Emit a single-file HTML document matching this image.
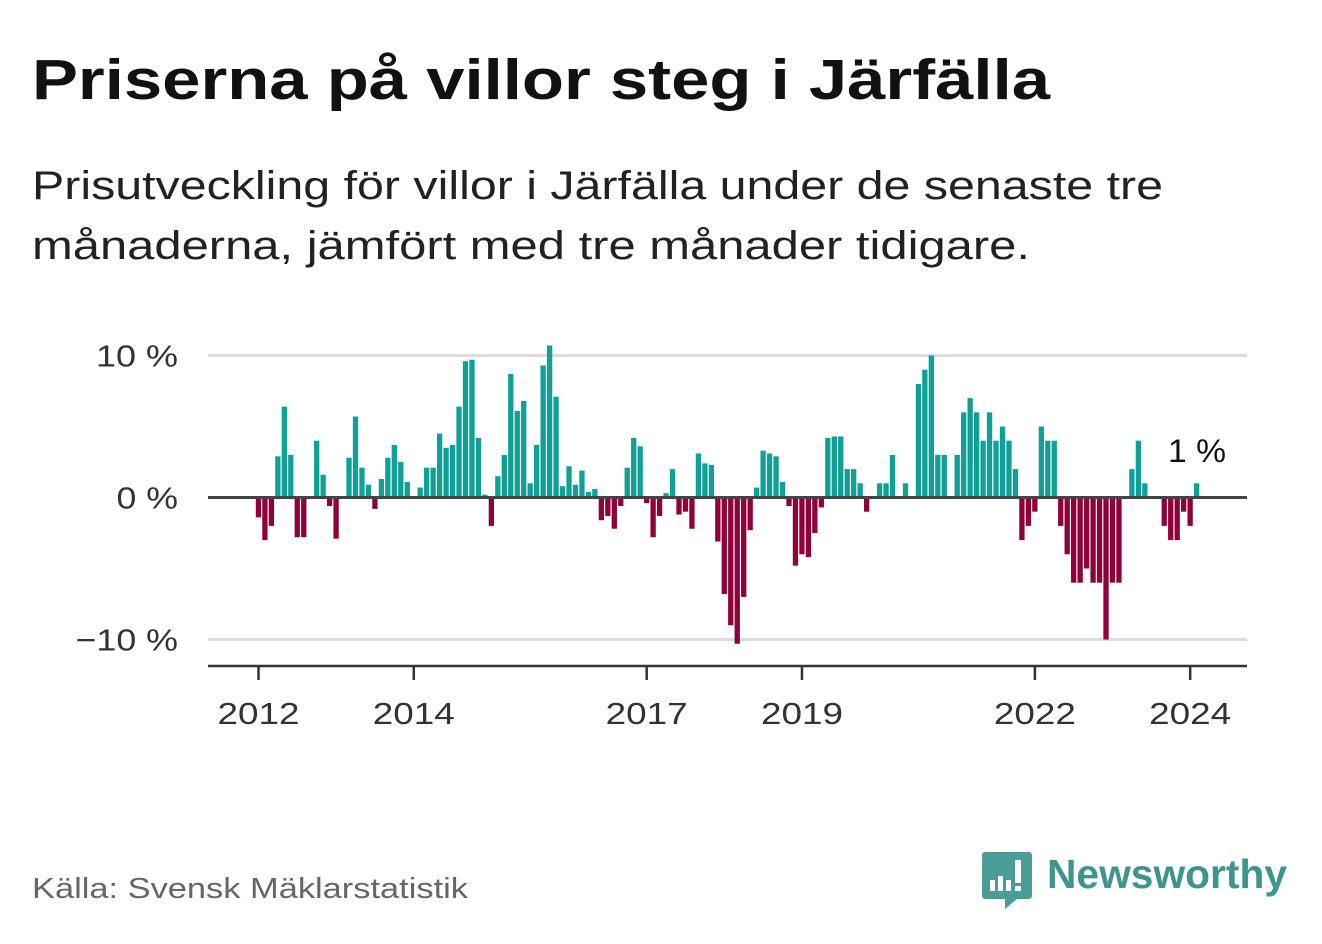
<!DOCTYPE html>
<html><head><meta charset="utf-8"><style>
body{margin:0;background:#fff;}
svg text{font-family:"Liberation Sans",sans-serif;}
</style></head><body>
<svg width="1322" height="939" viewBox="0 0 1322 939" xmlns="http://www.w3.org/2000/svg">
<text x="32" y="99" font-size="57" font-weight="bold" fill="#111" textLength="1018" lengthAdjust="spacingAndGlyphs">Priserna på villor steg i Järfälla</text>
<text x="32" y="199" font-size="40" fill="#222" textLength="1131" lengthAdjust="spacingAndGlyphs">Prisutveckling för villor i Järfälla under de senaste tre</text>
<text x="32" y="259" font-size="40" fill="#222" textLength="998" lengthAdjust="spacingAndGlyphs">månaderna, jämfört med tre månader tidigare.</text>
<g id="grid"></g>
<g id="bars"></g>
<g id="axes"></g>
<text x="1226" y="462" font-size="32" fill="#111" text-anchor="end" textLength="58" lengthAdjust="spacingAndGlyphs">1 %</text>
<text x="32" y="898" font-size="29" fill="#666" textLength="436" lengthAdjust="spacingAndGlyphs">Källa: Svensk Mäklarstatistik</text>
<g>
<path d="M985 852 h44 a3 3 0 0 1 3 3 v41 a3 3 0 0 1 -3 3 h-12 l-12 10 v-10 h-20 a3 3 0 0 1 -3 -3 v-41 a3 3 0 0 1 3 -3z" fill="#4a9d96"/>
<rect x="990" y="880" width="5" height="11" fill="#fff"/>
<rect x="998" y="876" width="5" height="15" fill="#fff"/>
<rect x="1006" y="880" width="5" height="11" fill="#fff"/>
<rect x="1015" y="860" width="6" height="23" fill="#fff"/>
<rect x="1015" y="886" width="6" height="5" fill="#fff"/>
<text x="1047" y="888" font-size="41" font-weight="bold" fill="#3f948d" textLength="240" lengthAdjust="spacingAndGlyphs">Newsworthy</text>
</g>
</svg>
<script>
const values = [
-1.4,-3,-2,2.9,6.4,3.0,-2.8,-2.8,0,4.0,1.6,-0.6,
-2.9,0,2.8,5.7,2.1,0.9,-0.8,1.3,2.8,3.7,2.5,1.1,
0,0.7,2.1,2.1,4.5,3.5,3.7,6.4,9.6,9.7,4.2,0.2,
-2.0,1.5,3.0,8.7,6.1,6.8,1.0,3.7,9.3,10.7,7.1,0.8,
2.2,0.9,1.9,0.4,0.6,-1.6,-1.3,-2.2,-0.6,2.1,4.2,3.6,
-0.4,-2.8,-1.3,0.3,2.0,-1.2,-1.0,-2.2,3.1,2.4,2.3,-3.1,
-6.8,-9.0,-10.3,-7.0,-2.3,0.7,3.3,3.1,2.9,1.1,-0.6,-4.8,
-4.0,-4.2,-2.5,-0.7,4.2,4.3,4.3,2.0,2.0,1.0,-1.0,0,
1.0,1.0,3.0,0,1.0,0,8.0,9.0,10.0,3.0,3.0,0,
3.0,6.0,7.0,6.0,4.0,6.0,4.0,5.0,4.0,2.0,-3.0,-2.0,
-1.0,5.0,4.0,4.0,-2.0,-4.0,-6.0,-6.0,-5.0,-6.0,-6.0,-10.0,
-6.0,-6.0,0,2.0,4.0,1.0,0,0,-2.0,-3.0,-3.0,-1.0,
-2.0,1.0
];
const yTicks = [10,0,-10];
const yTickLabels = ["10 %","0 %","\u221210 %"];
const xTickYears = [2012,2014,2017,2019,2022,2024];
const startYear = 2012;

const NS="http://www.w3.org/2000/svg";
const y0=497.5, pxPer=14.2;
function y(v){return y0 - v*pxPer;}
function x(k){return 258.5 + k*6.47;}
function mk(t,a){const e=document.createElementNS(NS,t);for(const k in a)e.setAttribute(k,a[k]);return e;}
const grid=document.getElementById('grid'), bars=document.getElementById('bars'), axes=document.getElementById('axes');
yTicks.forEach((v,i)=>{
  if(v!==0){const l=mk('line',{x1:208,x2:1247,y1:y(v),y2:y(v),stroke:'#ddd','stroke-width':3});
  
  
  grid.appendChild(l);}
  const lbl=yTickLabels[i];
  const t=mk('text',{x:178,y:y(v)+11,'font-size':31,fill:'#333','text-anchor':'end',textLength:lbl.length*20.5,lengthAdjust:'spacingAndGlyphs'});
  t.textContent=lbl;
  
  
  axes.appendChild(t);
});
values.forEach((v,k)=>{
  if(v===0)return;
  const r=mk('rect',{x:x(k)-2.7,width:5.3,y:Math.min(y(v),y0),height:Math.abs(v)*pxPer,fill:v>0?'#0fa096':'#900039'});
  
  
  bars.appendChild(r);
});
const zl=mk('line',{x1:208,x2:1247,y1:y0,y2:y0,stroke:'#444','stroke-width':3});


axes.appendChild(zl);
const xa=mk('line',{x1:208,x2:1247,y1:666,y2:666,stroke:'#333','stroke-width':2.5});


axes.appendChild(xa);
xTickYears.forEach(yr=>{
  const xx=x((yr-startYear)*12);
  const tk=mk('line',{x1:xx,x2:xx,y1:666,y2:680,stroke:'#333','stroke-width':2.5});
  
  
  axes.appendChild(tk);
  const t=mk('text',{x:xx,y:724,'font-size':31,fill:'#333','text-anchor':'middle',textLength:82,lengthAdjust:'spacingAndGlyphs'});
  t.textContent=yr;
  
  
  axes.appendChild(t);
});
</script>
</body></html>
